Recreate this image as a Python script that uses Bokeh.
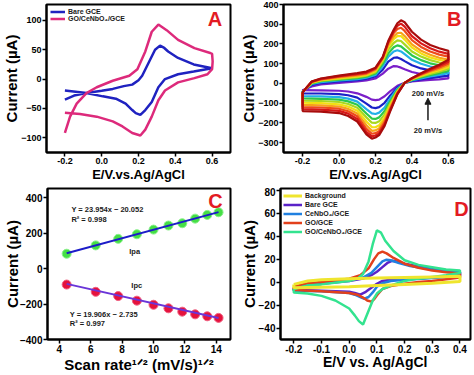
from bokeh.plotting import figure
from bokeh.layouts import column, row
from bokeh.models import (Range1d, FixedTicker, PrintfTickFormatter, Legend,
                          LegendItem, Label, Arrow, NormalHead)
from bokeh.embed import file_html
from bokeh.resources import INLINE

FONT = "Liberation Sans"

# ---------------- Panel A data ----------------
a_bare_Ea = [-0.2, -0.15, -0.083, 0.0, 0.06, 0.12, 0.166, 0.2, 0.22, 0.255, 0.29, 0.317, 0.34, 0.361, 0.415, 0.5, 0.6]
a_bare_Ia = [-35, -28, -23.8, -20, -16.7, -12, -9.4, -2, 5.6, 27.8, 50, 57, 53, 47, 36, 25, 18.3]
a_bare_Ec = [0.6, 0.5, 0.415, 0.344, 0.308, 0.272, 0.237, 0.21, 0.185, 0.166, 0.13, 0.077, 0.006, -0.083, -0.2]
a_bare_Ic = [18.3, 12.8, 8.3, 0, -13.9, -38.9, -52.7, -61, -58, -52.7, -41.7, -33.3, -29.4, -23.8, -19.4]

a_go_Ea = [-0.2, -0.172, -0.136, -0.083, -0.027, 0.06, 0.15, 0.194, 0.237, 0.272, 0.308, 0.353, 0.415, 0.504, 0.59, 0.6, 0.603]
a_go_Ia = [-91.7, -63.9, -41.7, -23.8, -13.9, -2.8, 5.6, 16.7, 47, 80.6, 92.8, 83.3, 66.7, 52.8, 44.4, 42.8, 30]
a_go_Ec = [0.6, 0.575, 0.504, 0.415, 0.344, 0.308, 0.272, 0.237, 0.21, 0.166, 0.113, 0.06, -0.027, -0.118, -0.2]
a_go_Ic = [17, 8.3, 1.7, -5.6, -19.4, -36, -63.9, -86, -96, -91.7, -80.6, -72, -64, -59.4, -57.2]

# ---------------- Panel B data ----------------
scan_rates = [20, 40, 60, 80, 100, 120, 140, 160, 180, 200]
b_colors = ["#7b1fc9", "#1b22c8", "#22b0e8", "#2ec84a", "#a8d820",
            "#f2e012", "#f7a21a", "#ee4b1a", "#d81818", "#a80c0c"]
b_Ea = [-0.2, -0.15, -0.1, 0.0, 0.1, 0.15, 0.2, 0.24, 0.27, 0.3, 0.32, 0.34, 0.36, 0.4, 0.45, 0.5, 0.55, 0.6]
b_Ia = [
    [-35, -15, -5, 3, 10, 15, 25, 50, 75, 88, 86, 80, 72, 58, 48, 42, 38, 35],
    [-38, -8, 2, 10, 17, 23, 35, 70, 110, 130, 132, 124, 113, 92, 76, 66, 60, 55],
    [-40, -3, 7, 15, 22, 29, 43, 88, 135, 162, 168, 162, 148, 120, 100, 86, 78, 72],
    [-41, 0, 11, 19, 27, 34, 50, 100, 152, 183, 193, 188, 173, 142, 118, 102, 92, 85],
    [-42, 3, 14, 23, 32, 39, 57, 112, 170, 205, 218, 215, 198, 162, 136, 118, 106, 98],
    [-43, 5, 17, 27, 36, 43, 63, 120, 185, 225, 240, 240, 222, 182, 152, 132, 119, 110],
    [-44, 7, 19, 30, 40, 47, 68, 125, 195, 238, 255, 257, 240, 198, 166, 145, 130, 121],
    [-44, 8, 21, 34, 44, 51, 73, 130, 205, 255, 276, 282, 266, 220, 185, 162, 146, 136],
    [-45, 9, 23, 37, 48, 55, 77, 132, 210, 265, 292, 303, 288, 240, 203, 178, 161, 150],
    [-45, 10, 25, 40, 52, 60, 80, 135, 215, 272, 305, 320, 310, 262, 222, 195, 178, 165],
]
b_Ec = [0.6, 0.55, 0.5, 0.45, 0.4, 0.36, 0.32, 0.28, 0.25, 0.22, 0.2, 0.18, 0.15, 0.1, 0.05, 0.0, -0.1, -0.2]
b_Ic = [
    [25, 21, 18, 14, 10, 3, -12, -40, -65, -82, -85, -82, -68, -50, -41, -37, -35, -34],
    [40, 33, 27, 20, 13, 3, -20, -62, -98, -120, -125, -122, -102, -72, -60, -54, -51, -50],
    [52, 43, 35, 26, 16, 3, -27, -78, -122, -148, -155, -152, -130, -92, -77, -69, -66, -64],
    [63, 52, 42, 31, 18, 3, -33, -92, -140, -172, -180, -178, -152, -108, -91, -82, -78, -76],
    [73, 60, 48, 35, 20, 3, -38, -103, -157, -192, -200, -199, -172, -123, -104, -94, -89, -87],
    [82, 67, 54, 39, 22, 3, -42, -113, -172, -212, -222, -221, -193, -138, -117, -106, -100, -98],
    [92, 74, 59, 43, 24, 3, -46, -122, -185, -228, -238, -240, -212, -152, -129, -117, -111, -109],
    [101, 81, 64, 46, 25, 3, -49, -130, -197, -242, -252, -255, -230, -166, -141, -128, -122, -120],
    [110, 88, 69, 49, 26, 3, -52, -137, -207, -253, -264, -268, -245, -180, -153, -139, -133, -130],
    [120, 95, 74, 52, 27, 3, -55, -143, -215, -262, -274, -280, -258, -193, -165, -150, -143, -140],
]

# ---------------- Panel C data ----------------
c_sqrt_rate = [4.47, 6.32, 7.75, 8.94, 10.0, 10.95, 11.83, 12.65, 13.42, 14.14]
c_ipa = [84, 131, 168, 194, 220, 243, 256, 282, 303, 318]
c_ipc = [-90, -131, -155, -181, -204, -224, -243, -258, -269, -278]
c_fit_ipa = (23.954, -20.052)
c_fit_ipc = (-19.906, 2.735)

# ---------------- Panel D data ----------------
d_bg_E = [-0.2, -0.15, -0.1, 0.0, 0.1, 0.2, 0.3, 0.4, 0.4, 0.3, 0.2, 0.1, 0.0, -0.1, -0.2, -0.2]
d_bg_I = [-2, 1, 2, 3, 3.5, 4, 4.5, 5, 0.5, -1, -2, -3, -4, -4.5, -5, -2]

d_bare_E = [-0.2, -0.1, 0.0, 0.05, 0.08, 0.1, 0.12, 0.14, 0.155, 0.17, 0.2, 0.25, 0.3, 0.4,
            0.4, 0.3, 0.2, 0.15, 0.12, 0.1, 0.08, 0.06, 0.04, 0.02, 0.0, -0.1, -0.2, -0.2]
d_bare_I = [-5.5, -1.5, 1, 3, 6, 9, 13, 17, 18.5, 18, 16, 13.5, 11.5, 8.5,
            6, 4, 2.5, 2, 1, -1.5, -5, -8.5, -11, -9.5, -8.5, -7.5, -7, -5.5]

d_ce_E = [-0.2, -0.1, 0.0, 0.05, 0.08, 0.1, 0.12, 0.135, 0.15, 0.18, 0.22, 0.3, 0.4,
          0.4, 0.3, 0.2, 0.15, 0.12, 0.1, 0.085, 0.07, 0.055, 0.04, 0.02, 0.0, -0.1, -0.2, -0.2]
d_ce_I = [-5, -1, 2, 4, 8, 13, 18, 19.5, 19, 16.5, 14, 11, 8.5,
          5, 3.5, 2, 1, -1, -4, -9, -13, -14.5, -13, -11, -9.5, -8, -7.5, -5]

d_go_E = [-0.2, -0.15, -0.1, 0.0, 0.04, 0.07, 0.09, 0.105, 0.12, 0.135, 0.16, 0.2, 0.25, 0.3, 0.35, 0.4,
          0.4, 0.35, 0.3, 0.25, 0.2, 0.15, 0.12, 0.105, 0.09, 0.08, 0.065, 0.05, 0.03, 0.0, -0.1, -0.2, -0.2]
d_go_I = [-4, -1, 0, 3, 6, 12, 20, 25, 26.5, 25, 21, 16, 12.5, 10, 8.5, 7.5,
          4, 2.5, 1, 0, -1.5, -3.5, -6, -10, -15, -17, -16, -13.5, -11, -9.5, -8, -7, -4]

d_gocn_E = [-0.2, -0.15, -0.1, 0.0, 0.03, 0.05, 0.07, 0.085, 0.1, 0.115, 0.13, 0.16, 0.2, 0.25, 0.3, 0.35, 0.4,
            0.4, 0.35, 0.3, 0.25, 0.2, 0.15, 0.12, 0.1, 0.085, 0.07, 0.05, 0.035, 0.02, 0.0, -0.05, -0.1, -0.15, -0.2, -0.2]
d_gocn_I = [-6, -3, -2, 1, 3, 7, 18, 33, 45, 43, 36, 27, 19, 15, 13, 11, 10,
            8, 6, 4.5, 3, 1, -3, -6, -10, -16, -25, -37, -34, -29, -23, -16, -12, -10, -9, -6]


def make_fig(w, h, xr, yr, ml, mr, mt, mb):
    p = figure(width=w, height=h, min_width=w, min_height=h,
               x_range=Range1d(*xr), y_range=Range1d(*yr),
               output_backend="svg", toolbar_location=None, sizing_mode="fixed",
               min_border_left=ml, min_border_right=mr,
               min_border_top=mt, min_border_bottom=mb)
    p.outline_line_color = "black"
    p.outline_line_width = 2
    p.outline_line_alpha = 1
    p.grid.visible = False
    p.background_fill_color = "white"
    p.border_fill_color = "white"
    return p


def style_axes(p, xticks, yticks, xfmt, tick_size, xlabel, ylabel, xl_size, yl_size,
               xl_standoff=0, yl_standoff=0):
    p.xaxis.ticker = FixedTicker(ticks=xticks)
    p.yaxis.ticker = FixedTicker(ticks=yticks)
    if xfmt:
        p.xaxis.formatter = PrintfTickFormatter(format=xfmt)
    for ax in list(p.xaxis) + list(p.yaxis):
        ax.axis_line_width = 2
        ax.axis_line_color = "black"
        ax.major_tick_line_width = 1.5
        ax.major_tick_line_color = "black"
        ax.major_tick_out = 4
        ax.major_tick_in = 0
        ax.minor_tick_line_color = None
        ax.major_label_text_font = FONT
        ax.major_label_text_font_style = "bold"
        ax.major_label_text_font_size = tick_size
        ax.major_label_text_color = "black"
        ax.major_label_standoff = 1
        ax.axis_label_text_font = FONT
        ax.axis_label_text_font_style = "bold"
        ax.axis_label_text_color = "black"
    p.xaxis.axis_label = xlabel
    p.xaxis.axis_label_text_font_size = xl_size
    p.xaxis.axis_label_standoff = xl_standoff
    p.yaxis.axis_label = ylabel
    p.yaxis.axis_label_text_font_size = yl_size
    p.yaxis.axis_label_standoff = yl_standoff


def lab(p, x, y, text, size, color="#1a1a1a", align="left", baseline="middle"):
    p.add_layout(Label(x=x, y=y, text=text, text_font=FONT, text_font_style="bold",
                       text_font_size=size, text_color=color, text_align=align,
                       text_baseline=baseline))


def legend(p, items, lh, gw, margin, size):
    lg = Legend(items=items, location="top_left", border_line_color=None,
                background_fill_alpha=0, label_text_font=FONT,
                label_text_font_style="bold", label_text_font_size=size,
                label_text_color="#1a1a1a", glyph_width=gw, glyph_height=lh,
                label_height=lh, label_standoff=3, spacing=0, padding=0,
                margin=margin)
    p.add_layout(lg)


LETTER = "#e31b23"

# ---------------- Panel A ----------------
pA = make_fig(237, 187, (-0.3, 0.7), (-125, 127), 42, 7, 2, 35)
style_axes(pA, [-0.2, 0.0, 0.2, 0.4, 0.6], [-100, -50, 0, 50, 100], "%.1f", "9px",
           "E/V.vs.Ag/AgCl", "Current (µA)", "13px", "15px", 0, -2)
rA1 = pA.line(a_bare_Ea + a_bare_Ec, a_bare_Ia + a_bare_Ic, line_color="#1f22c0", line_width=2.5)
rA2 = pA.line(a_go_Ea + a_go_Ec, a_go_Ia + a_go_Ic, line_color="#dd2a7b", line_width=2.5)
legend(pA, [LegendItem(label="Bare GCE", renderers=[rA1]),
            LegendItem(label="GO/CeNbO₄/GCE", renderers=[rA2])], 7, 15, 4, "7px")
lab(pA, 0.616, 103, "A", "20px", LETTER, "center")

# ---------------- Panel B ----------------
pB = make_fig(237, 187, (-0.305, 0.705), (-350, 400), 41, 7, 4, 34)
style_axes(pB, [-0.2, 0.0, 0.2, 0.4, 0.6], list(range(-300, 401, 100)), "%.1f", "9px",
           "E/V.vs.Ag/AgCl", "Current (µA)", "13px", "15px", 0, -2)
for i in range(len(scan_rates)):
    pB.line(b_Ea + b_Ec + [b_Ea[0]], b_Ia[i] + b_Ic[i] + [b_Ia[i][0]],
            line_color=b_colors[i], line_width=2.2)
lab(pB, 0.488, -51, "200 mV/s", "7.5px", "#1a1a1a", "center")
lab(pB, 0.488, -237, "20 mV/s", "7.5px", "#1a1a1a", "center")
pB.add_layout(Arrow(end=NormalHead(size=6, fill_color="#1a1a1a", line_color="#1a1a1a"),
                    x_start=0.488, y_start=-186, x_end=0.488, y_end=-75,
                    line_color="#1a1a1a", line_width=1.5))
lab(pB, 0.632, 329, "B", "20px", LETTER, "center")

# ---------------- Panel C ----------------
pC = make_fig(237, 188, (3.25, 14.9), (-400, 452), 42, 7, 1, 35)
style_axes(pC, [4, 6, 8, 10, 12, 14], [-400, -200, 0, 200, 400], None, "10px",
           "Scan rate¹ᐟ² (mV/s)¹ᐟ²", "Current (µA)", "15px", "15px", 0, -4)
pC.scatter(c_sqrt_rate, c_ipa, size=9, fill_color="#45df45", line_color="#8cf08c", line_width=1)
pC.scatter(c_sqrt_rate, c_ipc, size=9, fill_color="#e5123d", line_color="#f06080", line_width=1)
xf = [c_sqrt_rate[0], c_sqrt_rate[-1]]
pC.line(xf, [c_fit_ipa[0] * v + c_fit_ipa[1] for v in xf], line_color="#1c1cc8", line_width=2)
pC.line(xf, [c_fit_ipc[0] * v + c_fit_ipc[1] for v in xf], line_color="#6a35d8", line_width=2)
lab(pC, 4.77, 335, "Y = 23.954x − 20.052", "7.5px")
lab(pC, 4.77, 276, "R² = 0.998", "7.5px")
lab(pC, 8.8, 95, "Ipa", "7.5px", "#1a1a1a", "center")
lab(pC, 8.93, -95, "Ipc", "7.5px", "#1a1a1a", "center")
lab(pC, 4.67, -260, "Y = 19.906x − 2.735", "7.5px")
lab(pC, 4.67, -312, "R² = 0.997", "7.5px")
lab(pC, 13.94, 384, "C", "20px", LETTER, "center")

# ---------------- Panel D ----------------
pD = make_fig(237, 188, (-0.248, 0.438), (-50, 81.5), 41, 4, 1, 35)
style_axes(pD, [-0.2, -0.1, 0.0, 0.1, 0.2, 0.3, 0.4], [-40, -20, 0, 20, 40, 60, 80], "%.1f",
           "10px", "E/V vs. Ag/AgCl", "Current (µA)", "14px", "15px", -2, -2)
rD2 = pD.line(d_bare_E, d_bare_I, line_color="#5a22c8", line_width=2.5)
rD3 = pD.line(d_ce_E, d_ce_I, line_color="#2080e0", line_width=2.5)
rD4 = pD.line(d_go_E, d_go_I, line_color="#e2401c", line_width=2.5)
rD5 = pD.line(d_gocn_E, d_gocn_I, line_color="#33e38f", line_width=2.5)
rD1 = pD.line(d_bg_E, d_bg_I, line_color="#efe52e", line_width=3)
legend(pD, [LegendItem(label="Background", renderers=[rD1]),
            LegendItem(label="Bare GCE", renderers=[rD2]),
            LegendItem(label="CeNbO₄/GCE", renderers=[rD3]),
            LegendItem(label="GO/GCE", renderers=[rD4]),
            LegendItem(label="GO/CeNbO₄/GCE", renderers=[rD5])], 9, 19, 3, "7px")
lab(pD, 0.405, 64, "D", "20px", LETTER, "center")

top = row(pA, pB, sizing_mode="fixed", width=474, height=187, min_height=187)
bottom = row(pC, pD, sizing_mode="fixed", width=474, height=188, min_height=188)
layout = column(top, bottom, sizing_mode="fixed", width=474, height=375)
open("out.html", "w").write(file_html(layout, INLINE))
